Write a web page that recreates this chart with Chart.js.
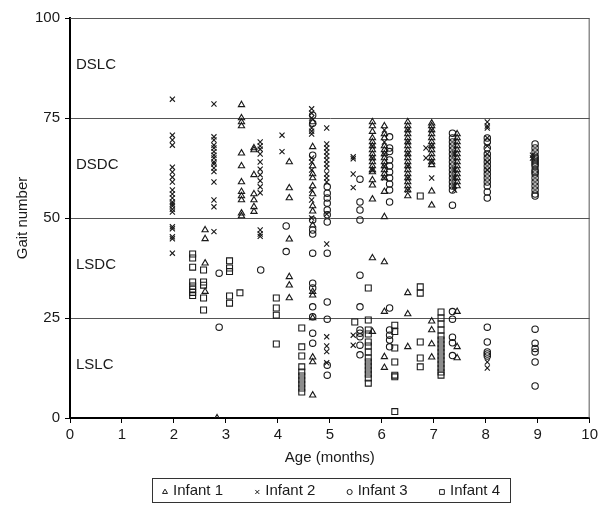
<!DOCTYPE html>
<html>
<head>
<meta charset="utf-8">
<script src="https://cdn.jsdelivr.net/npm/chart.js@4/dist/chart.umd.min.js"></script>
<style>
  html, body { margin: 0; background: #fff; }
  #wrap { width: 601px; height: 511px; }
</style>
</head>
<body>
<div id="wrap"><canvas id="gaitChart" width="601" height="511"></canvas></div>
<script>
/* ── data: one age per session, gait numbers seen at that age ── */
const infantNames = ['Infant 1', 'Infant 2', 'Infant 3', 'Infant 4'];

const ages1 = [2.6, 2.83, 3.3, 3.54, 4.22, 4.67, 5.82, 6.05, 6.5, 6.96, 7.45];
const gait1 = [
  [47, 44.8, 38.7, 31.6],
  [0],
  [78.3, 75, 74, 73, 66.2, 63, 59, 56.6, 55.5, 54.5, 51.2, 50.5],
  [67.5, 67, 60.8, 56, 54.5, 52.8, 51.6],
  [64, 57.5, 55, 44.7, 35.3, 33.2, 30],
  [74, 67.8, 63, 61, 60, 58, 56, 53, 51.7, 48.2, 31.6, 30.7, 25, 15.2, 14, 5.7],
  [74, 73, 71.6, 70, 69, 68, 67, 66, 65, 64, 63, 62, 61.5, 59.5, 58.2, 54.7, 40, 21.6],
  [73, 71, 70, 68, 67, 66, 65, 64, 63, 62, 61, 60, 56.6, 50.3, 39, 26.6, 15.3, 12.6],
  [74, 73, 72, 71, 70, 69, 68, 67, 66, 65, 64, 63, 62, 61, 60, 59, 58, 57, 55.5, 31.3, 26, 17.8],
  [73.7, 73, 72, 71, 70, 69, 68, 67, 66, 65, 64, 63.3, 56.7, 53.2, 24.2, 22, 18.5, 15.2],
  [71, 70, 69, 68, 67, 66, 65, 64, 63, 62, 61, 60, 59, 58, 26.6, 17.8, 15]
];

const ages2 = [1.97, 2.77, 3.66, 4.08, 4.65, 4.94, 5.45, 5.82, 6.05, 6.5, 6.85, 6.96, 7.4, 8.03, 8.9];
const gait2 = [
  [79.7, 70.7, 69.5, 68.2, 62.7, 61.5, 60.2, 59, 57, 56, 55, 54, 53.5, 53, 52.2, 51.5, 47.8, 47.3, 45.3, 44.8, 41.2],
  [78.5, 70.3, 69.5, 68.2, 67.5, 66.6, 65.7, 65, 64, 63.5, 62.5, 61.6, 59, 54.5, 52.8, 46.6],
  [69, 68, 67.2, 66, 64, 62.2, 60.8, 59.3, 57.8, 56.3, 47, 46, 45.4],
  [70.7, 66.6],
  [77.3, 76.2, 75, 72.5, 71.7, 71, 65, 64, 62, 57, 54.5, 50],
  [72.5, 68.5, 67.5, 66.5, 65.5, 64.5, 63.5, 62.5, 61, 60, 59, 51, 43.5, 20.3, 18, 16.6, 13.8],
  [65.3, 64.8, 61, 57.6, 20.7, 18.2],
  [68, 65, 62],
  [72, 69, 66, 63, 60],
  [72, 69, 66, 63, 60, 57],
  [67.5, 65],
  [72, 68, 64, 60],
  [66, 62, 60, 58, 57],
  [74, 73, 72.5, 70, 68, 66, 64, 62, 14, 12.5],
  [65.7, 65]
];

const ages3 = [2.87, 3.67, 4.16, 4.67, 4.95, 5.58, 6.15, 7.36, 8.03, 8.95];
const gait3 = [
  [36.2, 22.7],
  [37],
  [48, 41.6],
  [75.7, 73.7, 65.7, 49.5, 47, 46, 41.2, 33.7, 32.5, 27.8, 25.3, 21.2, 18.7],
  [57.8, 56.2, 55, 53.7, 52, 50.8, 49, 41.2, 29, 24.7, 13.2, 10.7],
  [59.7, 54, 52, 49.5, 35.7, 27.8, 22, 21.2, 20.3, 18.2, 15.8],
  [70.3, 67.5, 66.6, 64.5, 63, 61.5, 60, 58.5, 57, 54, 27.5, 22, 20.7, 19.5, 17.8],
  [71.2, 70, 69, 68, 67, 66, 65, 64, 63, 62, 61, 60, 59, 58, 57, 53.2, 26.6, 24.7, 20.2, 18.8, 15.6],
  [70, 69, 67.5, 66, 65, 64, 63, 62, 61, 60, 59, 58, 56.5, 55, 22.7, 19, 16.5, 16, 15.5],
  [68.5, 67.5, 66.5, 65.5, 65, 64.5, 64, 63.5, 63, 62, 61.5, 61, 60, 59, 58, 57, 56, 55.5, 22.2, 18.7, 17.4, 16.5, 14, 8]
];

const ages4 = [2.36, 2.57, 3.07, 3.27, 3.97, 4.46, 5.48, 5.74, 6.25, 6.74, 7.14];
const gait4 = [
  [41, 40, 37.7, 34, 33, 32.2, 31.4, 30.6],
  [37, 34, 33.2, 30, 27],
  [39.3, 37.5, 36.6, 30.5, 28.7],
  [31.3],
  [30, 27.5, 25.7, 18.5],
  [22.5, 17.8, 15.5, 12.8, 11.5, 10.5, 9.5, 8.5, 7.5, 6.5],
  [24],
  [32.5, 24.5, 22, 21, 19, 18, 16.5, 15, 14, 13, 12, 11, 10, 8.7],
  [23.2, 21.6, 17.5, 14, 10.7, 10.3, 1.6],
  [55.5, 32.8, 31.2, 19, 15, 12.8],
  [26.5, 25, 23.5, 22, 20.5, 19.5, 18.5, 17.5, 16.5, 15.5, 14.5, 13.5, 12.5, 11.5, 10.7]
];

// gait bands, bottom to top, and their boundaries
const zoneNames  = ['LSLC', 'LSDC', 'DSDC', 'DSLC'];
const zoneBreaks = [0, 25, 50, 75, 100];

/* ── helpers ─────────────────────────────────── */
const FONT = 'Liberation Sans, Arial, sans-serif';
const INK  = '#1a1a1a';

function toPoints(ages, gaits) {
  return ages.flatMap((age, i) => gaits[i].map(g => ({ x: age, y: g })));
}

const markers = [
  { style: 'triangle', radius: 3.6 },
  { style: 'crossRot', radius: 3.6 },
  { style: 'circle',   radius: 3.2 },
  { style: 'rect',     radius: 4.2 },
];

const allSeries = [toPoints(ages1, gait1), toPoints(ages2, gait2), toPoints(ages3, gait3), toPoints(ages4, gait4)];

const datasets = allSeries.map((pts, i) => ({
  label: infantNames[i],
  data: pts,
  pointStyle: markers[i].style,
  pointRadius: markers[i].radius,
  pointHoverRadius: markers[i].radius,
  pointBorderColor: INK,
  pointBackgroundColor: 'rgba(0,0,0,0)',
  pointBorderWidth: 1.1,
  showLine: false,
}));

/* ── plugin: frame, band names, boxed legend ───── */
const decorations = {
  id: 'decorations',
  afterDraw(chart) {
    const { ctx, chartArea: a, scales: { y } } = chart;
    ctx.save();

    // top / right frame lines
    ctx.strokeStyle = '#555';
    ctx.lineWidth = 1;
    ctx.beginPath();
    ctx.moveTo(a.left, a.top + 0.5);
    ctx.lineTo(a.right - 0.5, a.top + 0.5);
    ctx.lineTo(a.right - 0.5, a.bottom);
    ctx.stroke();

    // band names
    ctx.fillStyle = INK;
    ctx.font = `15px ${FONT}`;
    ctx.textAlign = 'left';
    ctx.textBaseline = 'middle';
    zoneNames.forEach((name, i) => {
      const mid = (zoneBreaks[i] + zoneBreaks[i + 1]) / 2;
      ctx.fillText(name, a.left + 6, y.getPixelForValue(mid) - 3);
    });

    // legend in a box under the axis
    const boxL = 152, boxR = 510, boxT = 478, boxB = 502;
    const cy = (boxT + boxB) / 2;
    ctx.strokeStyle = '#333';
    ctx.strokeRect(boxL + 0.5, boxT + 0.5, boxR - boxL, boxB - boxT);
    const textW = infantNames.map(n => ctx.measureText(n).width);
    const itemW = textW.map(w => 6 + 5 + w);
    const gap = (boxR - boxL - 20 - itemW.reduce((s, w) => s + w, 0)) / (infantNames.length - 1);
    let cx = boxL + 10;
    infantNames.forEach((name, i) => {
      ctx.fillStyle = 'rgba(0,0,0,0)';
      ctx.strokeStyle = INK;
      Chart.helpers.drawPoint(ctx, {
        pointStyle: markers[i].style,
        radius: markers[i].radius * 0.8,
        borderWidth: 1,
      }, cx + 3, cy + 2);
      ctx.fillStyle = INK;
      ctx.fillText(name, cx + 11, cy + 1);
      cx += itemW[i] + gap;
    });
    ctx.restore();
  },
};

/* ── chart ─────────────────────────────────────── */
new Chart(document.getElementById('gaitChart'), {
  type: 'scatter',
  data: { datasets },
  options: {
    responsive: false,
    animation: false,
    events: [],
    layout: { padding: { left: 0, right: 8, top: 18, bottom: 36 } },
    plugins: {
      legend: { display: false },
      tooltip: { enabled: false },
    },
    scales: {
      x: {
        type: 'linear',
        min: 0,
        max: 10,
        afterFit(scale) { scale.height = 57; },
        ticks: {
          stepSize: 1,
          color: INK,
          padding: 3,
          font: { family: FONT, size: 15 },
        },
        grid: {
          drawOnChartArea: false,
          tickLength: 5,
          tickColor: '#000',
        },
        border: { color: '#000', width: 2 },
        title: {
          display: true,
          text: 'Age (months)',
          color: INK,
          font: { family: FONT, size: 15 },
          padding: { top: 0, bottom: 8 },
        },
      },
      y: {
        min: 0,
        max: 100,
        afterFit(scale) { scale.width = 70; },
        ticks: {
          stepSize: 25,
          color: INK,
          padding: 5,
          font: { family: FONT, size: 15 },
        },
        grid: {
          color: '#555',
          lineWidth: 1,
          tickLength: 5,
          tickColor: '#000',
        },
        border: { color: '#000', width: 2 },
        title: {
          display: true,
          text: 'Gait number',
          color: INK,
          font: { family: FONT, size: 15 },
          padding: { top: 14, bottom: 0 },
        },
      },
    },
  },
  plugins: [decorations],
});
</script>
</body>
</html>
